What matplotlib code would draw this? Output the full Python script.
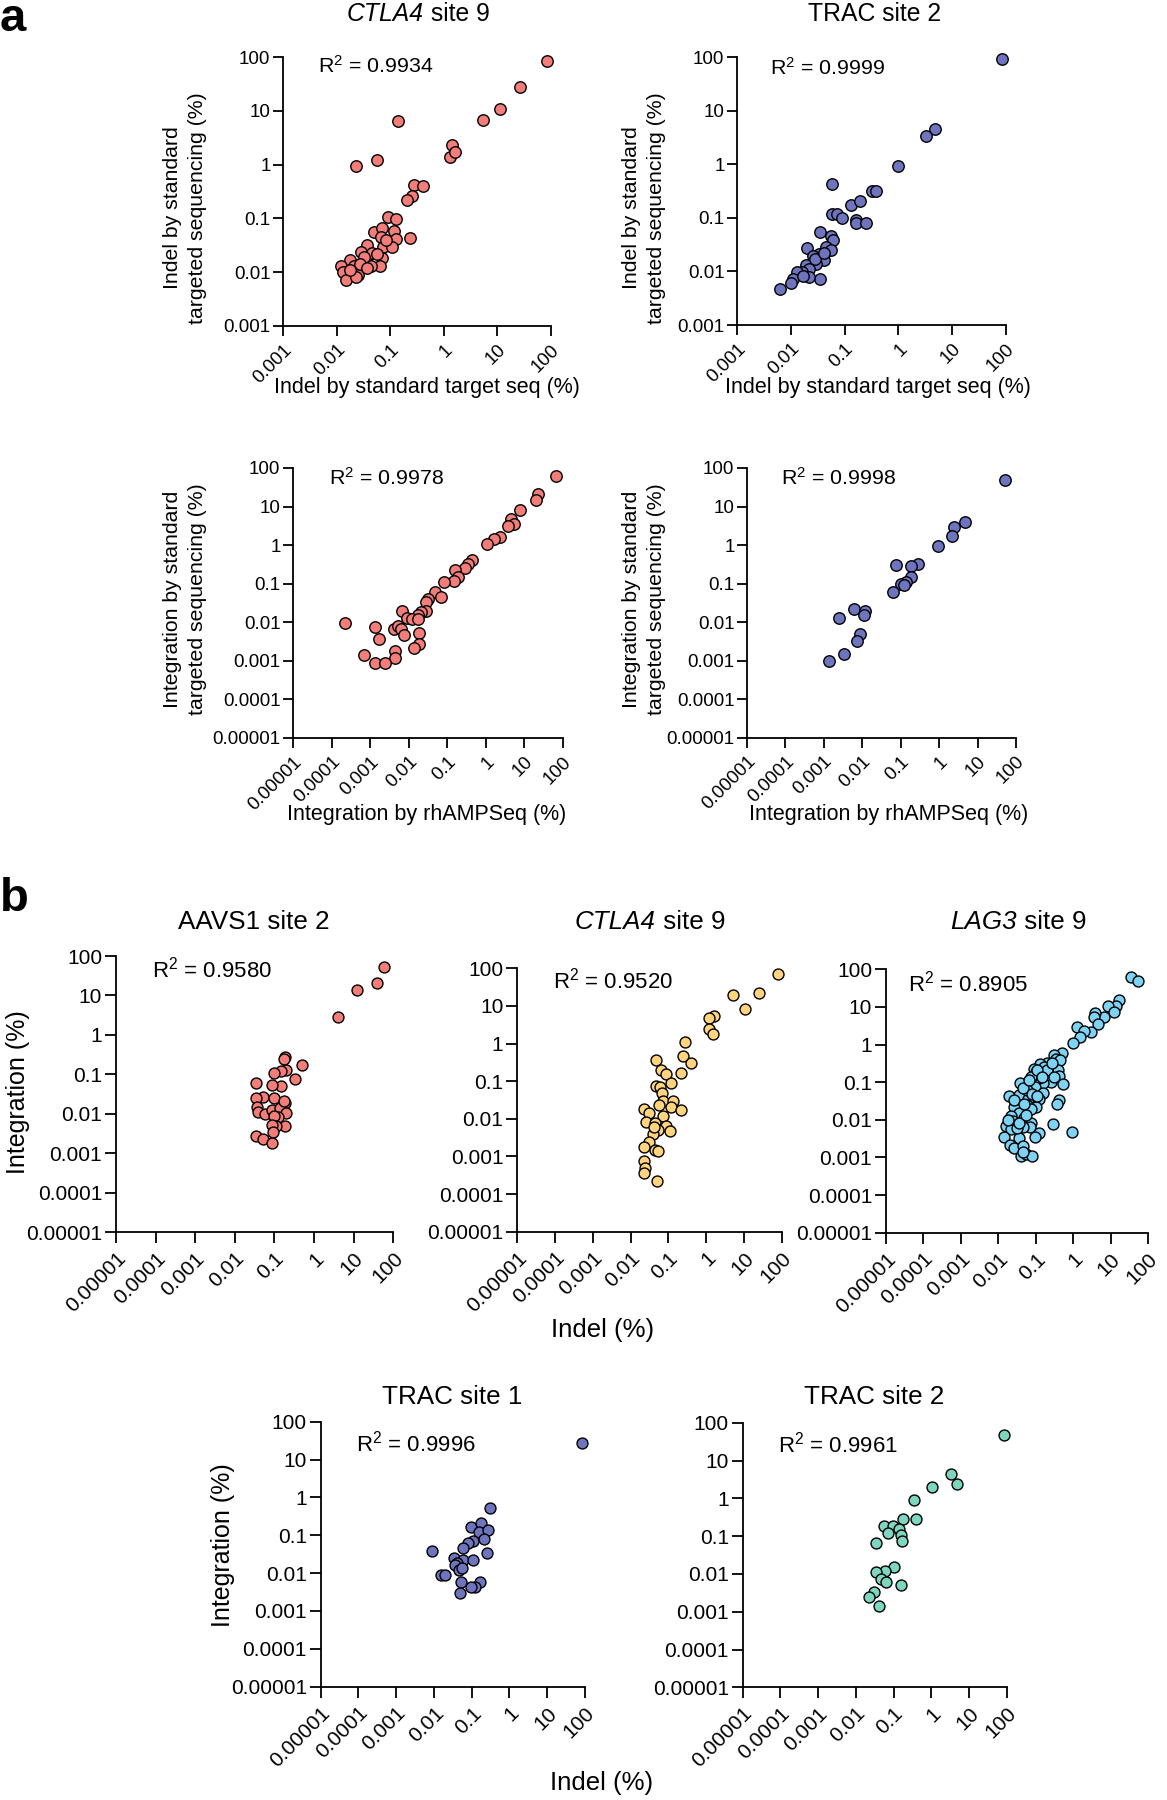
import matplotlib
matplotlib.use("Agg")
import matplotlib.pyplot as plt

plt.rcParams['font.family'] = ['Liberation Sans', 'DejaVu Sans']
plt.rcParams['mathtext.fontset'] = 'custom'
plt.rcParams['mathtext.rm'] = 'Liberation Sans'
plt.rcParams['mathtext.it'] = 'Liberation Sans:italic'
plt.rcParams['mathtext.default'] = 'regular'

W, H = 1167, 1800

decade_labels = ['0.00001', '0.0001', '0.001', '0.01', '0.1', '1', '10', '100']

# ---- panel a: indel / integration by rhAMPSeq vs standard sequencing ----
a_ctla4_x = [85, 26, 11, 5.3, 0.14, 0.056, 0.023, 1.4, 1.3, 1.6, 0.28, 0.41, 0.25, 0.21, 0.091,
             0.13, 0.23, 0.049, 0.069, 0.12, 0.13, 0.066, 0.037, 0.028, 0.046, 0.072, 0.11, 0.069,
             0.018, 0.037, 0.065, 0.044, 0.021, 0.012, 0.013, 0.025, 0.015, 0.023, 0.032, 0.056,
             0.027, 0.085, 0.037, 0.018]
a_ctla4_y = [83, 28, 11, 6.7, 6.6, 1.2, 0.94, 2.3, 1.4, 1.7, 0.41, 0.40, 0.26, 0.22, 0.105,
             0.096, 0.043, 0.055, 0.065, 0.059, 0.041, 0.045, 0.032, 0.024, 0.023, 0.030, 0.030,
             0.018, 0.017, 0.015, 0.013, 0.013, 0.013, 0.013, 0.010, 0.0087, 0.0071, 0.0081,
             0.019, 0.022, 0.014, 0.040, 0.012, 0.011]

a_trac_x = [83, 4.7, 3.2, 1.0, 0.33, 0.39, 0.059, 0.13, 0.19, 0.059, 0.071, 0.090, 0.16, 0.16,
            0.25, 0.035, 0.055, 0.061, 0.046, 0.055, 0.020, 0.034, 0.041, 0.026, 0.030, 0.019,
            0.022, 0.016, 0.013, 0.011, 0.035, 0.022, 0.010, 0.0063, 0.028, 0.017, 0.042]
a_trac_y = [92, 4.6, 3.4, 0.93, 0.32, 0.32, 0.42, 0.17, 0.21, 0.12, 0.12, 0.098, 0.091, 0.081,
            0.079, 0.054, 0.045, 0.038, 0.029, 0.025, 0.027, 0.021, 0.016, 0.019, 0.014, 0.013,
            0.011, 0.0096, 0.0096, 0.0071, 0.0073, 0.0080, 0.0060, 0.0047, 0.017, 0.0083, 0.022]

a_int_ctla4_x = [67, 22, 20, 7.8, 4.6, 5.5, 3.7, 2.3, 1.6, 1.05, 0.45, 0.35, 0.29, 0.16, 0.19,
                 0.145, 0.081, 0.048, 0.069, 0.031, 0.028, 0.028, 0.021, 0.017, 0.0066, 0.0089,
                 0.012, 0.017, 0.00022, 0.00135, 0.0042, 0.0053, 0.0063, 0.0077, 0.018, 0.0017,
                 0.019, 0.014, 0.0045, 0.0045, 0.00071, 0.00135, 0.0024]
a_int_ctla4_y = [63, 21, 15, 8.3, 4.8, 3.5, 3.2, 1.6, 1.45, 1.1, 0.40, 0.33, 0.25, 0.23, 0.15,
                 0.12, 0.11, 0.060, 0.045, 0.039, 0.033, 0.020, 0.019, 0.015, 0.020, 0.013,
                 0.012, 0.012, 0.0096, 0.0076, 0.0067, 0.0082, 0.0067, 0.0046, 0.0053, 0.0037,
                 0.0028, 0.0021, 0.0018, 0.0012, 0.0014, 0.00087, 0.00087]

a_int_trac_x = [51, 4.6, 2.5, 2.1, 0.96, 0.29, 0.19, 0.076, 0.18, 0.14, 0.10, 0.12, 0.062,
                0.0060, 0.012, 0.011, 0.0025, 0.0085, 0.0071, 0.0033, 0.0014]
a_int_trac_y = [48, 4.0, 2.9, 1.75, 0.96, 0.32, 0.29, 0.31, 0.15, 0.11, 0.098, 0.093, 0.060,
                0.022, 0.019, 0.015, 0.013, 0.0049, 0.0033, 0.0015, 0.00098]

# ---- panel b: integration vs indel ----
b_aavs1_x = [57, 38, 12, 4.1, 0.51, 0.33, 0.19, 0.17, 0.20, 0.145, 0.10, 0.15, 0.085, 0.034,
             0.052, 0.035, 0.098, 0.19, 0.037, 0.039, 0.057, 0.085, 0.14, 0.20, 0.125, 0.10,
             0.18, 0.11, 0.085, 0.093, 0.034, 0.050, 0.085, 0.17]
b_aavs1_y = [52, 21, 14, 2.9, 0.17, 0.076, 0.27, 0.24, 0.13, 0.12, 0.11, 0.051, 0.054, 0.062,
             0.027, 0.025, 0.025, 0.019, 0.015, 0.011, 0.010, 0.0126, 0.014, 0.0103, 0.0085,
             0.0087, 0.0050, 0.0048, 0.0053, 0.0034, 0.0028, 0.0023, 0.0018, 0.021]

b_ctla4_x = [81, 25, 5.0, 10.7, 1.62, 1.2, 1.2, 1.55, 0.28, 0.24, 0.40, 0.21, 0.047, 0.063,
             0.089, 0.12, 0.047, 0.060, 0.066, 0.071, 0.13, 0.058, 0.115, 0.21, 0.022, 0.031,
             0.074, 0.026, 0.044, 0.087, 0.11, 0.054, 0.040, 0.030, 0.023, 0.043, 0.054, 0.023,
             0.024, 0.023, 0.049, 0.042]
b_ctla4_y = [71, 22, 20, 8.1, 5.4, 4.7, 2.5, 1.8, 1.07, 0.47, 0.31, 0.17, 0.37, 0.20, 0.16,
             0.087, 0.075, 0.072, 0.050, 0.030, 0.030, 0.023, 0.021, 0.017, 0.018, 0.014, 0.012,
             0.0081, 0.0076, 0.0066, 0.0048, 0.0049, 0.0040, 0.0024, 0.0018, 0.0015, 0.0014,
             0.00074, 0.00049, 0.00036, 0.00022, 0.0062]

b_lag3_x = [36, 54, 17, 13.6, 8.7, 12, 6.7, 3.9, 3.6, 4.6, 3.0, 1.3, 2.0, 1.55, 1.0, 0.50, 0.30,
            0.35, 0.45, 0.20, 0.13, 0.089, 0.10, 0.17, 0.39, 0.41, 0.54, 0.25, 0.16, 0.12, 0.074,
            0.060, 0.038, 0.093, 0.16, 0.12, 0.43, 0.37, 0.019, 0.036, 0.063, 0.060, 0.10, 0.074,
            0.026, 0.036, 0.022, 0.049, 0.074, 0.071, 0.045, 0.024, 0.016, 0.022, 0.29, 0.93,
            0.126, 0.095, 0.0145, 0.036, 0.021, 0.026, 0.047, 0.040, 0.054, 0.078, 0.045, 0.032,
            0.018, 0.060, 0.045, 0.026, 0.081, 0.049, 0.20, 0.28, 0.11, 0.15, 0.30, 0.066, 0.11,
            0.036, 0.054]
b_lag3_y = [64, 50, 15, 10.6, 10.3, 7.5, 5.5, 7.1, 5.3, 3.5, 2.2, 3.0, 2.3, 1.6, 1.1, 0.59, 0.53,
            0.41, 0.38, 0.33, 0.30, 0.22, 0.19, 0.26, 0.21, 0.15, 0.088, 0.10, 0.093, 0.13, 0.14,
            0.093, 0.093, 0.073, 0.052, 0.035, 0.034, 0.026, 0.044, 0.046, 0.036, 0.025, 0.022,
            0.019, 0.022, 0.015, 0.0126, 0.011, 0.0081, 0.0066, 0.0066, 0.0095, 0.0069, 0.0056,
            0.0076, 0.0047, 0.0046, 0.0035, 0.0036, 0.0032, 0.0021, 0.0018, 0.0020, 0.0011,
            0.0012, 0.0011, 0.0014, 0.0060, 0.010, 0.062, 0.069, 0.034, 0.050, 0.027, 0.21, 0.32,
            0.21, 0.14, 0.14, 0.115, 0.042, 0.0081, 0.0135]

b_trac1_x = [85, 0.30, 0.096, 0.18, 0.155, 0.27, 0.21, 0.11, 0.081, 0.060, 0.0087, 0.26, 0.034,
             0.060, 0.11, 0.040, 0.036, 0.045, 0.054, 0.0155, 0.0196, 0.052, 0.17, 0.12, 0.096,
             0.049]
b_trac1_y = [28, 0.52, 0.17, 0.21, 0.12, 0.14, 0.079, 0.070, 0.061, 0.047, 0.038, 0.033, 0.025,
             0.022, 0.022, 0.019, 0.016, 0.012, 0.0135, 0.0089, 0.0089, 0.0059, 0.0057, 0.0044,
             0.0042, 0.0030]

b_trac2_x = [87, 3.3, 4.9, 1.02, 0.34, 0.39, 0.18, 0.057, 0.096, 0.14, 0.073, 0.16, 0.17, 0.035,
             0.105, 0.060, 0.035, 0.046, 0.062, 0.16, 0.030, 0.022, 0.042]
b_trac2_y = [47, 4.4, 2.4, 2.0, 0.89, 0.28, 0.28, 0.19, 0.19, 0.155, 0.12, 0.107, 0.076, 0.065,
             0.015, 0.012, 0.0114, 0.0073, 0.0062, 0.0052, 0.0034, 0.0025, 0.0014]

RED = '#F27D79'
BLUE = '#6F74BE'
YELLOW = '#FED47E'
CYAN = '#7ED3F4'
GREEN = '#7FD6BF'

fig = plt.figure(figsize=(W / 100, H / 100), dpi=100)
renderer = fig.canvas.get_renderer()


def ftext(px, py, s, **kw):
    return fig.text(px / W, 1 - py / H, s, **kw)


def title(cx, py, italic_part, rest, fs):
    # gene names are italic, the rest upright; centre the pair on cx
    t1 = ftext(0, py, italic_part, fontsize=fs, fontstyle='italic', ha='left', va='center')
    t2 = ftext(0, py, rest, fontsize=fs, ha='left', va='center')
    w1 = t1.get_window_extent(renderer).width if italic_part else 0
    w2 = t2.get_window_extent(renderer).width
    x0 = cx - (w1 + w2) / 2
    t1.set_x(x0 / W)
    t2.set_x((x0 + w1) / W)


def make_panel(box, xs, ys, color, lo_label, r2, r2_px, tick_fs, r2_fs, tick_len, msize):
    left, top, right, bottom = box
    ax = fig.add_axes([left / W, 1 - bottom / H, (right - left) / W, (bottom - top) / H])
    ax.set_xscale('log')
    ax.set_yscale('log')
    labels = decade_labels[decade_labels.index(lo_label):]
    vals = [float(v) for v in labels]
    ax.set_xlim(vals[0], vals[-1])
    ax.set_ylim(vals[0], vals[-1])
    ax.set_xticks(vals)
    ax.set_xticklabels(labels, rotation=45, ha='right', va='top', rotation_mode='anchor')
    ax.set_yticks(vals)
    ax.set_yticklabels(labels)
    ax.minorticks_off()
    for s in ['top', 'right']:
        ax.spines[s].set_visible(False)
    for s in ['left', 'bottom']:
        ax.spines[s].set_linewidth(1.3)
    ax.tick_params(axis='both', length=tick_len, width=1.3, labelsize=tick_fs, pad=2)
    ax.tick_params(axis='x', pad=4)
    ax.scatter(xs, ys, s=msize, c=color, edgecolors='black', linewidths=1.0,
               clip_on=False, zorder=3)
    ftext(r2_px[0], r2_px[1], 'R$^{2}$ = ' + r2, fontsize=r2_fs, ha='left', va='center')
    ax.patch.set_alpha(0)
    return ax


# panel a
make_panel((283, 57, 551, 326), a_ctla4_x, a_ctla4_y, RED, '0.001', '0.9934',
           (318, 66), 13.6, 15.4, 7, 68)
make_panel((737, 57, 1006, 325), a_trac_x, a_trac_y, BLUE, '0.001', '0.9999',
           (770, 68), 13.6, 15.4, 7, 68)
make_panel((293, 468, 563, 738), a_int_ctla4_x, a_int_ctla4_y, RED, '0.00001', '0.9978',
           (329, 478), 13.6, 15.4, 7, 68)
make_panel((747, 468, 1016, 737.7), a_int_trac_x, a_int_trac_y, BLUE, '0.00001', '0.9998',
           (781, 478), 13.6, 15.4, 7, 68)

# panel b
make_panel((116, 956, 393.3, 1232.3), b_aavs1_x, b_aavs1_y, RED, '0.00001', '0.9580',
           (152, 970), 15, 16, 8, 62)
make_panel((517.3, 968.3, 781.7, 1231.7), b_ctla4_x, b_ctla4_y, YELLOW, '0.00001', '0.9520',
           (553, 981), 15, 16, 8, 62)
make_panel((886, 969.3, 1148, 1232.7), b_lag3_x, b_lag3_y, CYAN, '0.00001', '0.8905',
           (908, 984), 15, 16, 8, 62)
make_panel((320.7, 1421.7, 585, 1686.7), b_trac1_x, b_trac1_y, BLUE, '0.00001', '0.9996',
           (356, 1444), 15, 16, 8, 62)
make_panel((742.7, 1422.7, 1006.7, 1687.3), b_trac2_x, b_trac2_y, GREEN, '0.00001', '0.9961',
           (778, 1445), 15, 16, 8, 62)

# panel letters
ftext(0, 31, 'a', fontsize=34, fontweight='bold', ha='left', va='baseline')
ftext(0, 911, 'b', fontsize=34, fontweight='bold', ha='left', va='baseline')

# titles
title(418, 14, 'CTLA4', ' site 9', 17.8)
title(875, 14, '', 'TRAC site 2', 17.8)
title(254, 922, '', 'AAVS1 site 2', 18.7)
title(650, 922, 'CTLA4', ' site 9', 18.7)
title(1018, 922, 'LAG3', ' site 9', 18.7)
title(452, 1397, '', 'TRAC site 1', 18.7)
title(874, 1397, '', 'TRAC site 2', 18.7)

# axis labels, panel a
for cx in (185, 644):
    ftext(cx, 208, 'Indel by standard\ntargeted sequencing (%)', fontsize=15.3,
          rotation=90, ha='center', va='center', multialignment='center', linespacing=1.34)
    ftext(cx, 599, 'Integration by standard\ntargeted sequencing (%)', fontsize=15.3,
          rotation=90, ha='center', va='center', multialignment='center', linespacing=1.34)
ftext(427, 387, 'Indel by standard target seq (%)', fontsize=15.5, ha='center', va='center')
ftext(878, 387, 'Indel by standard target seq (%)', fontsize=15.5, ha='center', va='center')
ftext(427, 815, 'Integration by rhAMPSeq (%)', fontsize=15.5, ha='center', va='center')
ftext(889, 815, 'Integration by rhAMPSeq (%)', fontsize=15.5, ha='center', va='center')

# axis labels, panel b
ftext(18, 1092, 'Integration (%)', fontsize=18, rotation=90, ha='center', va='center')
ftext(223, 1545, 'Integration (%)', fontsize=18, rotation=90, ha='center', va='center')
ftext(603, 1330, 'Indel (%)', fontsize=18.5, ha='center', va='center')
ftext(602, 1783, 'Indel (%)', fontsize=18.5, ha='center', va='center')

fig.savefig('out.png', dpi=100, facecolor='white')
